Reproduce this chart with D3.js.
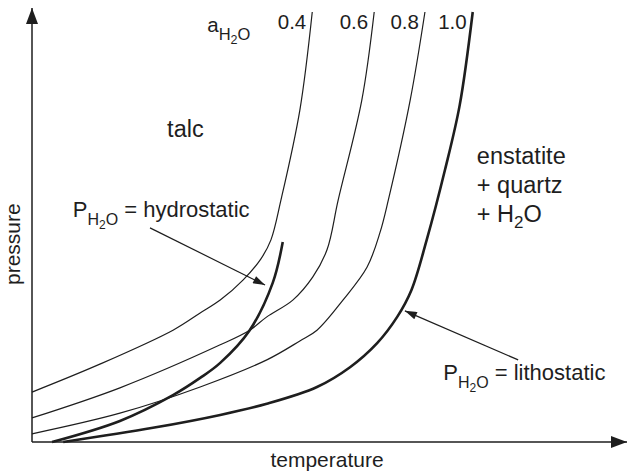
<!DOCTYPE html>
<html>
<head>
<meta charset="utf-8">
<script src="https://cdn.jsdelivr.net/npm/d3@7"></script>
<style>
  html, body { margin: 0; padding: 0; background: #fff; }
  svg { display: block; }
  text { font-family: "Liberation Sans", Arial, Helvetica, sans-serif; fill: #1e1e1e; }
</style>
</head>
<body>
<svg id="chart" width="627" height="472"></svg>
<script>
// Schematic talc = enstatite + quartz + H2O reaction curves (temperature vs pressure, arbitrary units 0-100)
const activityLabels = ["0.4", "0.6", "0.8", "1.0"];

// [temperature, pressure] along each water-activity isopleth
const aH2O_04 = [[0, 11.6], [11.5, 18.1], [23.9, 26.0], [28.5, 30.0], [31.9, 33.0], [35.8, 37.7],
                 [38.8, 42.6], [40.5, 47.0], [42.2, 56.3], [45.4, 77.2], [47.5, 100]];
const aH2O_06 = [[0, 5.6], [14.9, 12.6], [31.9, 22.6], [36.9, 26.0], [39.8, 29.1], [44.2, 33.0],
                 [47.6, 38.4], [50.0, 44.7], [51.9, 56.3], [55.9, 79.5], [58.0, 100]];
const aH2O_08 = [[0, 1.9], [14.9, 6.7], [28.5, 12.8], [39.8, 19.1], [45.4, 23.5], [48.3, 26.0],
                 [52.7, 33.0], [56.8, 40.7], [59.0, 48.8], [60.4, 56.3], [64.1, 79.5], [66.6, 100]];
// a(H2O) = 1.0, i.e. P(H2O) = lithostatic
const lithostatic = [[5.3, 0], [20.5, 3.3], [31.9, 6.3], [39.8, 8.9], [48.3, 12.8], [53.9, 17.4],
                     [58.5, 23.0], [61.9, 29.1], [64.3, 35.3], [66.9, 47.0], [70.0, 63.3], [72.5, 78.4], [74.7, 100]];
// P(H2O) = hydrostatic
const hydrostatic = [[3.4, 0], [14.9, 4.9], [23.9, 10.9], [28.5, 14.9], [31.9, 18.4], [36.9, 26.0],
                     [40.8, 37.0], [42.5, 46.5]];

// leader arrows: [start, tip]
const hydroArrow = [[20.0, 49.8], [39.5, 36.5]];
const lithoArrow = [[82.4, 19.1], [63.2, 30.5]];

const svg = d3.select("#chart");
const x = d3.scaleLinear().domain([0, 100]).range([32, 622]);
const y = d3.scaleLinear().domain([0, 100]).range([442, 12]);
const ink = "#1e1e1e";

// arrowhead markers
const defs = svg.append("defs");
defs.append("marker")
  .attr("id", "leader")
  .attr("markerUnits", "userSpaceOnUse")
  .attr("viewBox", "0 0 12 8")
  .attr("refX", 12).attr("refY", 4)
  .attr("markerWidth", 13).attr("markerHeight", 8)
  .attr("orient", "auto")
  .append("path").attr("d", "M0,0 L12,4 L0,8 Z").attr("fill", ink);
defs.append("marker")
  .attr("id", "axisHead")
  .attr("markerUnits", "userSpaceOnUse")
  .attr("viewBox", "0 0 16 12")
  .attr("refX", 16).attr("refY", 6)
  .attr("markerWidth", 17).attr("markerHeight", 12)
  .attr("orient", "auto")
  .append("path").attr("d", "M0,0 L16,6 L0,12 Z").attr("fill", ink);

// axes without ticks, ending in arrowheads
const [x0, x1] = x.range();
const [y0, y1] = y.range();
svg.append("line")
  .attr("x1", x0).attr("y1", y0).attr("x2", x1 + 5).attr("y2", y0)
  .attr("stroke", ink).attr("stroke-width", 1.5)
  .attr("marker-end", "url(#axisHead)");
svg.append("line")
  .attr("x1", x0).attr("y1", y0).attr("x2", x0).attr("y2", y1 - 4)
  .attr("stroke", ink).attr("stroke-width", 1.5)
  .attr("marker-end", "url(#axisHead)");

const line = d3.line()
  .x(d => x(d[0]))
  .y(d => y(d[1]))
  .curve(d3.curveCatmullRom.alpha(0.5));

const curves = [
  { data: aH2O_04, width: 1.2, label: activityLabels[0] },
  { data: aH2O_06, width: 1.2, label: activityLabels[1] },
  { data: aH2O_08, width: 1.2, label: activityLabels[2] },
  { data: lithostatic, width: 2.6, label: activityLabels[3] },
  { data: hydrostatic, width: 2.6, label: null }
];

svg.append("g").selectAll("path")
  .data(curves)
  .join("path")
  .attr("d", d => line(d.data))
  .attr("fill", "none")
  .attr("stroke", ink)
  .attr("stroke-width", d => d.width)
  .attr("stroke-linecap", "butt");

// activity labels beside the top of each isopleth
svg.append("g").selectAll("text")
  .data(curves.filter(d => d.label))
  .join("text")
  .attr("x", d => x(d.data[d.data.length - 1][0]) - 6)
  .attr("y", d => y(d.data[d.data.length - 1][1]) + 17)
  .attr("text-anchor", "end")
  .attr("font-size", 20.5)
  .text(d => d.label);

// leader arrows
[hydroArrow, lithoArrow].forEach(a => {
  svg.append("line")
    .attr("x1", x(a[0][0])).attr("y1", y(a[0][1]))
    .attr("x2", x(a[1][0])).attr("y2", y(a[1][1]))
    .attr("stroke", ink).attr("stroke-width", 1.2)
    .attr("marker-end", "url(#leader)");
});

// a(H2O) heading
const aLab = svg.append("text").attr("x", x(29.7)).attr("y", y(95.3)).attr("font-size", 20.5);
aLab.append("tspan").text("a");
aLab.append("tspan").attr("font-size", 16.5).attr("dy", 8).text("H");
aLab.append("tspan").attr("font-size", 12.5).attr("dy", 4).text("2");
aLab.append("tspan").attr("font-size", 16.5).attr("dy", -4).text("O");

// stability field labels
svg.append("text").attr("x", x(22.9)).attr("y", y(70.9)).attr("font-size", 23.5).text("talc");

const ens = svg.append("text").attr("x", x(75.4)).attr("y", y(64.7)).attr("font-size", 23.5);
ens.append("tspan").attr("x", x(75.4)).text("enstatite");
ens.append("tspan").attr("x", x(75.4)).attr("dy", 29).text("+ quartz");
ens.append("tspan").attr("x", x(75.4)).attr("dy", 29).text("+ H");
ens.append("tspan").attr("font-size", 17).attr("dy", 6).text("2");
ens.append("tspan").attr("dy", -6).text("O");

// P(H2O) labels
function pLabel(t, p, rest) {
  const g = svg.append("text").attr("x", x(t)).attr("y", y(p)).attr("font-size", 22);
  g.append("tspan").text("P");
  g.append("tspan").attr("font-size", 16).attr("dy", 8).text("H");
  g.append("tspan").attr("font-size", 12).attr("dy", 4).text("2");
  g.append("tspan").attr("font-size", 16).attr("dy", -4).text("O");
  g.append("tspan").attr("dy", -8).text(" = " + rest);
}
pLabel(6.9, 52.3, "hydrostatic");
pLabel(69.7, 14.4, "lithostatic");

// axis titles
svg.append("text")
  .attr("x", (x0 + x1) / 2).attr("y", 467)
  .attr("text-anchor", "middle").attr("font-size", 21)
  .text("temperature");
svg.append("text")
  .attr("transform", `translate(20,${y(46)}) rotate(-90)`)
  .attr("text-anchor", "middle").attr("font-size", 21)
  .text("pressure");
</script>
</body>
</html>
